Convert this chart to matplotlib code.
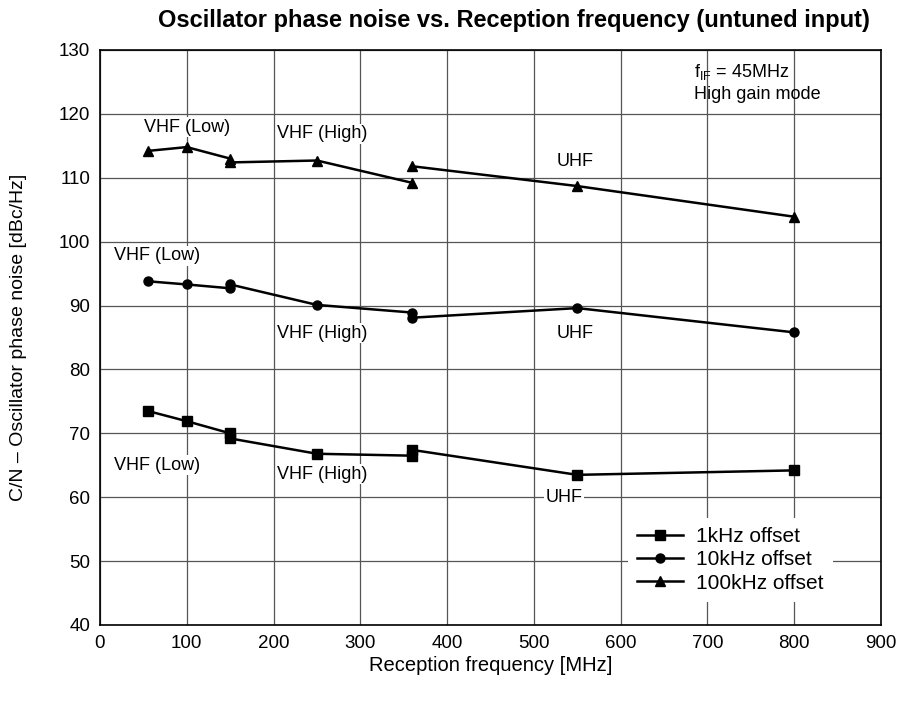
import numpy as np
import matplotlib.pyplot as plt

plt.rcParams['font.family'] = ['Liberation Sans', 'DejaVu Sans']

# frequency points of each band [MHz]
f_low = [55, 100, 150]
f_high = [150, 250, 360]
f_uhf = [360, 550, 800]

# C/N [dBc/Hz] per offset, per band
cn_1k_low = [73.5, 71.9, 70.0]
cn_1k_high = [69.2, 66.8, 66.5]
cn_1k_uhf = [67.4, 63.5, 64.2]

cn_10k_low = [93.8, 93.3, 92.7]
cn_10k_high = [93.3, 90.1, 88.9]
cn_10k_uhf = [88.1, 89.6, 85.8]

cn_100k_low = [114.2, 114.8, 113.0]
cn_100k_high = [112.4, 112.7, 109.2]
cn_100k_uhf = [111.8, 108.7, 103.9]

band_labels = ["VHF (Low)", "VHF (High)", "UHF"]
label_x_100k = [100, 256, 547]
label_y_100k = [117.9, 116.9, 112.5]
label_x_10k = [66, 256, 547]
label_y_10k = [97.8, 85.7, 85.7]
label_x_1k = [66, 256, 535]
label_y_1k = [65.0, 63.6, 60.0]

fig = plt.figure(figsize=(9.04, 7.02), dpi=100)
ax = fig.add_axes([0.1106, 0.1097, 0.864, 0.8191])

series = [
    ("1kHz offset", "s", [cn_1k_low, cn_1k_high, cn_1k_uhf]),
    ("10kHz offset", "o", [cn_10k_low, cn_10k_high, cn_10k_uhf]),
    ("100kHz offset", "^", [cn_100k_low, cn_100k_high, cn_100k_uhf]),
]
for name, mk, vals in series:
    for i, (f, v) in enumerate(zip([f_low, f_high, f_uhf], vals)):
        ax.plot(f, v, color="black", lw=1.8, marker=mk, ms=6.5,
                label=name if i == 0 else None, zorder=3)

bbox = dict(facecolor="white", edgecolor="none", pad=1.0)
for xs, ys in [(label_x_100k, label_y_100k), (label_x_10k, label_y_10k), (label_x_1k, label_y_1k)]:
    for t, x, y in zip(band_labels, xs, ys):
        ax.text(x, y, t, ha="center", va="center", fontsize=13, bbox=bbox, zorder=2)

ax.text(684, 126.6, "f$_{\\mathregular{IF}}$ = 45MHz", fontsize=13, va="center")
ax.text(684, 123.1, "High gain mode", fontsize=13, va="center")

ax.set_xlim(0, 900)
ax.set_ylim(40, 130)
ax.set_xticks(np.arange(0, 901, 100))
ax.set_yticks(np.arange(40, 131, 10))
ax.grid(True, color="#555555", lw=0.9, zorder=0)
ax.set_axisbelow(True)
ax.tick_params(length=0, labelsize=13.5, pad=7)
for s in ax.spines.values():
    s.set_linewidth(1.2)

leg = ax.legend(loc="lower left", bbox_to_anchor=(0.676, 0.04), borderaxespad=0,
                fontsize=15, frameon=True, handlelength=2.2, handletextpad=0.6,
                borderpad=0.45, labelspacing=0.2)
leg.get_frame().set_edgecolor("none")
leg.get_frame().set_facecolor("white")
leg.get_frame().set_alpha(1)
leg.get_frame().set_boxstyle("square", pad=0)

fig.text(514 / 904, 1 - 20 / 702, "Oscillator phase noise vs. Reception frequency (untuned input)",
         fontsize=17, fontweight="bold", ha="center", va="center")
ax.set_xlabel("Reception frequency [MHz]", fontsize=14.5, labelpad=3)
ax.set_ylabel("C/N \u2013 Oscillator phase noise [dBc/Hz]", fontsize=14)
ax.yaxis.set_label_coords(-0.093, 0.5)

plt.savefig("out.png", dpi=100)
